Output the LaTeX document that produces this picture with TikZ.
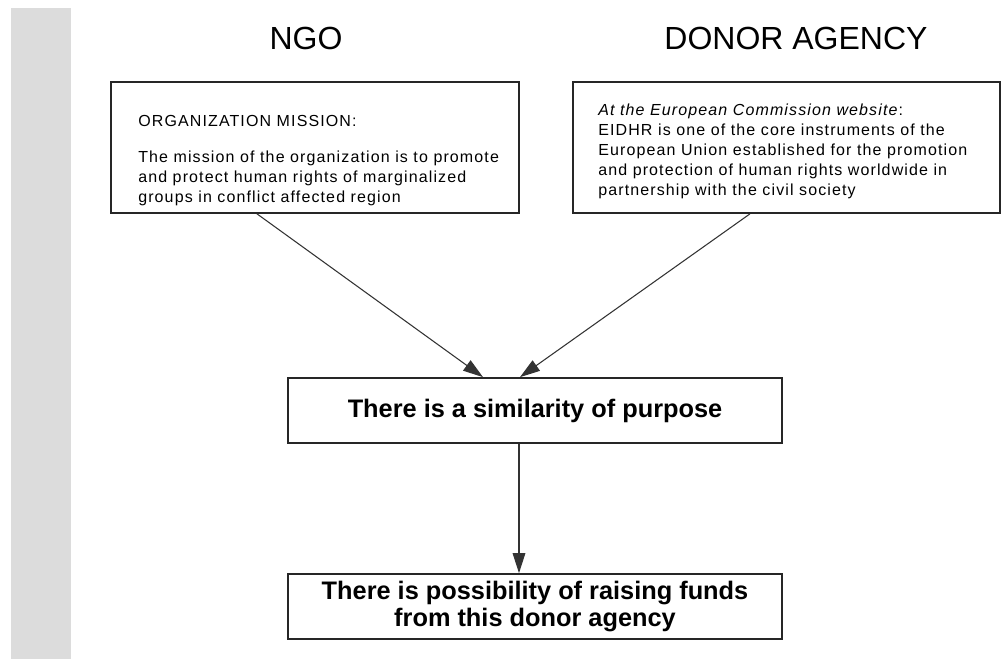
\documentclass[tikz,border=0pt]{standalone}
\usepackage{fontspec}
\setmainfont{Liberation Sans}
\newfontfamily\boxfont[LetterSpace=7]{Liberation Sans}
\usepackage{tikz}
\usetikzlibrary{arrows.meta, positioning}
\definecolor{stripgrey}{HTML}{DCDCDC}
\tikzset{
	frame/.style={draw=black!85, line width=1.3pt},
	boxtext/.style={align=left, inner sep=0pt, anchor=north west, font=\boxfont\fontsize{12}{15}\selectfont},
	result/.style={frame, align=center, minimum width=370.5pt, minimum height=48.75pt, font=\fontsize{19}{20}\selectfont\bfseries},
	link/.style={draw=black!80, line width=0.8pt, -{Triangle[length=15pt, width=9.5pt]}}
}

\begin{document}
\begin{tikzpicture}[x=0.75pt, y=-0.75pt]
				\useasboundingbox (0, 0) rectangle (1008, 659);
				\fill[stripgrey] (11, 8) rectangle (71, 659);

				\node (NGO) [inner sep=0pt, font=\fontsize{24}{24}\selectfont] at (306, 38.5) {NGO};
				\node (Donor) [inner sep=0pt, font=\fontsize{24}{24}\selectfont] at (796, 38.5) {DONOR AGENCY};

				\node (Mission) [frame, minimum width=306pt, minimum height=98.25pt] at (315, 147.5) {};
				\node (MissionText) [boxtext] at (138, 115) {ORGANIZATION MISSION:\\[12pt]
					The mission of the organization is to promote\\
					and protect human rights of marginalized\\
					groups in conflict affected region};

				\node (EIDHR) [frame, minimum width=320.25pt, minimum height=98.25pt] at (786.5, 147.5) {};
				\node (EIDHRText) [boxtext] at (598, 104) {\textit{At the European Commission website}:\\
					EIDHR is one of the core instruments of the\\
					European Union established for the promotion\\
					and protection of human rights worldwide in\\
					partnership with the civil society};

				\node (Similar) [result] at (535, 410.5) {There is a similarity of purpose};
				\node (Funds) [result] at (535, 606.5) {There is possibility of raising funds\\from this donor agency};

				\draw[link] ([xshift=-43.5pt]Mission.south) -- ([xshift=-39pt]Similar.north);
				\draw[link] ([xshift=-27.4pt]EIDHR.south) -- ([xshift=-11.25pt]Similar.north);
				\draw[link] ([xshift=-12pt]Similar.south) -- ([xshift=-12pt]Funds.north);
			\end{tikzpicture}
\end{document}
